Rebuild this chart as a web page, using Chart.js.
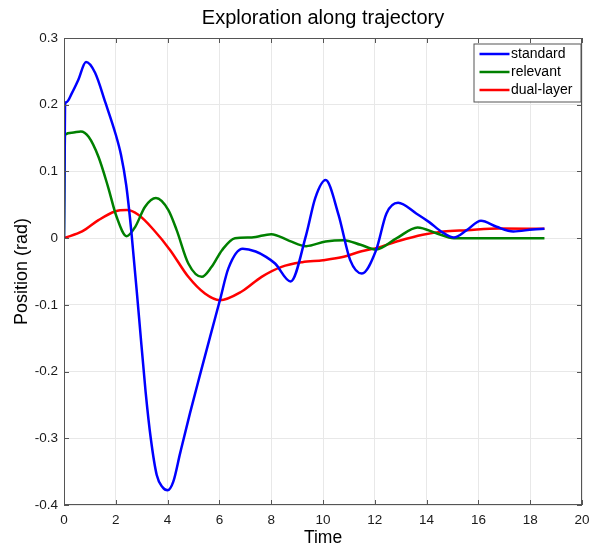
<!DOCTYPE html>
<html>
<head>
<meta charset="utf-8">
<script src="https://cdn.jsdelivr.net/npm/chart.js@4.4.1/dist/chart.umd.min.js"></script>
<style>
  html, body { margin: 0; padding: 0; background: #fff; }
  #wrap { width: 597px; height: 550px; }
</style>
</head>
<body>
<div id="wrap"><canvas id="trajChart" width="597" height="550"></canvas></div>
<script>
"use strict";

// values
const timeStandard = [0, 0.04, 0.1, 0.3, 0.55, 0.85, 1.2, 1.6, 2.0, 2.2, 2.4, 2.6, 2.9, 3.15, 3.35, 3.58, 3.8, 4.0, 4.22, 4.48, 4.86, 5.25, 5.64, 6.02, 6.35, 6.9, 7.4, 7.8, 8.15, 8.75, 9.35, 9.7, 10.1, 10.6, 11.05, 11.5, 12.05, 12.45, 12.9, 13.6, 14.1, 14.6, 15.05, 15.55, 16.1, 16.7, 17.35, 18.1, 18.55];
const standard = [0, 0.2, 0.204, 0.217, 0.237, 0.264, 0.248, 0.203, 0.155, 0.125, 0.08, 0.01, -0.12, -0.23, -0.3, -0.355, -0.373, -0.378, -0.365, -0.323, -0.263, -0.205, -0.148, -0.093, -0.045, -0.016, -0.02, -0.028, -0.038, -0.065, 0.005, 0.06, 0.087, 0.035, -0.033, -0.053, -0.018, 0.037, 0.053, 0.037, 0.024, 0.009, 0.001, 0.012, 0.026, 0.017, 0.01, 0.013, 0.014];

const timeRelevant = [0, 0.04, 0.3, 0.65, 0.95, 1.33, 1.7, 2.03, 2.42, 2.75, 3.13, 3.55, 4.03, 4.35, 4.8, 5.32, 5.7, 6.1, 6.6, 7.25, 8.0, 8.7, 9.35, 10.1, 10.8, 11.45, 12.05, 12.85, 13.65, 14.4, 15.05, 16, 17, 18.55];
const relevant = [0, 0.155, 0.158, 0.16, 0.152, 0.122, 0.077, 0.032, 0.003, 0.017, 0.047, 0.06, 0.042, 0.012, -0.038, -0.058, -0.043, -0.018, 0, 0.001, 0.006, -0.004, -0.012, -0.005, -0.003, -0.01, -0.017, 0, 0.016, 0.007, 0, 0, 0, 0];

const timeDual = [0, 0.7, 1.33, 1.97, 2.42, 2.87, 3.45, 4.1, 4.8, 5.44, 6.02, 6.86, 7.63, 8.4, 9.2, 10.0, 10.8, 11.45, 12.05, 12.95, 13.85, 14.65, 15.55, 16.8, 18.55];
const dualLayer = [0, 0.01, 0.027, 0.04, 0.042, 0.035, 0.013, -0.018, -0.058, -0.083, -0.093, -0.08, -0.058, -0.043, -0.036, -0.033, -0.028, -0.02, -0.015, -0.004, 0.005, 0.01, 0.012, 0.0145, 0.014];

const seriesNames = ["standard", "relevant", "dual-layer"];
const seriesColors = ["#0000ff", "#008000", "#ff0000"];

const FONT = "'Liberation Sans', Arial, Helvetica, sans-serif";

function toPoints(xs, ys) {
    return xs.map((x, i) => ({ x: x, y: ys[i] }));
}

// box around the plot + inward tick marks like matlab
const boxPlugin = {
    id: 'boxPlugin',
    afterDatasetsDraw(chart) {
        const { ctx, chartArea: a, scales } = chart;
        ctx.save();
        ctx.strokeStyle = '#555555';
        ctx.lineWidth = 1;
        ctx.strokeRect(a.left + 0.5, a.top + 0.5, a.right - a.left - 1, a.bottom - a.top - 1);
        ctx.beginPath();
        scales.x.ticks.forEach(t => {
            const px = Math.round(scales.x.getPixelForValue(t.value)) + 0.5;
            ctx.moveTo(px, a.bottom); ctx.lineTo(px, a.bottom - 5);
            ctx.moveTo(px, a.top); ctx.lineTo(px, a.top + 5);
        });
        scales.y.ticks.forEach(t => {
            const py = Math.round(scales.y.getPixelForValue(t.value)) + 0.5;
            ctx.moveTo(a.left, py); ctx.lineTo(a.left + 5, py);
            ctx.moveTo(a.right, py); ctx.lineTo(a.right - 5, py);
        });
        ctx.stroke();
        ctx.restore();
    },
    afterDraw(chart) {
        // legend box in the upper right corner
        const { ctx, chartArea: a } = chart;
        const boxW = 107, rowH = 18;
        const x0 = a.right - 1.5 - boxW, y0 = a.top + 5.5;
        const n = chart.data.datasets.length;
        ctx.save();
        ctx.fillStyle = '#fff';
        ctx.fillRect(x0, y0, boxW, rowH * n + 4);
        ctx.strokeStyle = '#555555';
        ctx.lineWidth = 1;
        ctx.strokeRect(x0 + 0.5, y0 + 0.5, boxW, rowH * n + 4);
        ctx.font = '14px ' + FONT;
        ctx.textBaseline = 'middle';
        chart.data.datasets.forEach((ds, i) => {
            const y = y0 + 10.5 + i * rowH;
            ctx.strokeStyle = ds.borderColor;
            ctx.lineWidth = 2.5;
            ctx.beginPath();
            ctx.moveTo(x0 + 6, y); ctx.lineTo(x0 + 36, y);
            ctx.stroke();
            ctx.fillStyle = '#000';
            ctx.fillText(ds.label, x0 + 37.5, y);
        });
        ctx.restore();
    }
};

const ctx = document.getElementById('trajChart').getContext('2d');
const xs = [timeStandard, timeRelevant, timeDual];
const ys = [standard, relevant, dualLayer];

new Chart(ctx, {
    type: 'line',
    data: {
        datasets: seriesNames.map((name, i) => ({
            label: name,
            data: toPoints(xs[i], ys[i]),
            borderColor: seriesColors[i],
            backgroundColor: seriesColors[i],
            borderWidth: 2.5,
            pointRadius: 0,
            fill: false,
            cubicInterpolationMode: 'monotone'
        }))
    },
    options: {
        responsive: false,
        animation: false,
        layout: { padding: { left: 0, right: 15, top: 0, bottom: 0 } },
        plugins: {
            legend: { display: false },
            tooltip: { enabled: false },
            title: {
                display: true,
                fullSize: false,
                text: 'Exploration along trajectory',
                color: '#000',
                font: { family: FONT, size: 20, weight: 'normal', lineHeight: 1.2 },
                padding: { top: 6, bottom: 8 }
            }
        },
        scales: {
            x: {
                type: 'linear',
                min: 0,
                max: 20,
                ticks: { stepSize: 2, color: '#1a1a1a', padding: 7, maxRotation: 0, font: { family: FONT, size: 13.5 } },
                grid: { color: '#e8e8e8', drawTicks: false },
                border: { display: false },
                title: { display: true, text: 'Time', color: '#000', font: { family: FONT, size: 17.5 }, padding: { top: 0, bottom: 1 } },
                afterFit: s => { s.height = 45; }
            },
            y: {
                min: -0.4,
                max: 0.3,
                ticks: {
                    stepSize: 0.1,
                    color: '#1a1a1a',
                    padding: 6,
                    font: { family: FONT, size: 13.5 },
                    callback: v => String(Math.round(v * 10) / 10)
                },
                grid: { color: '#e8e8e8', drawTicks: false },
                border: { display: false },
                title: { display: true, text: 'Position (rad)', color: '#000', font: { family: FONT, size: 18 }, padding: { top: 11, bottom: 0 } },
                afterFit: s => { s.width = 64; }
            }
        }
    },
    plugins: [boxPlugin]
});
</script>
</body>
</html>
